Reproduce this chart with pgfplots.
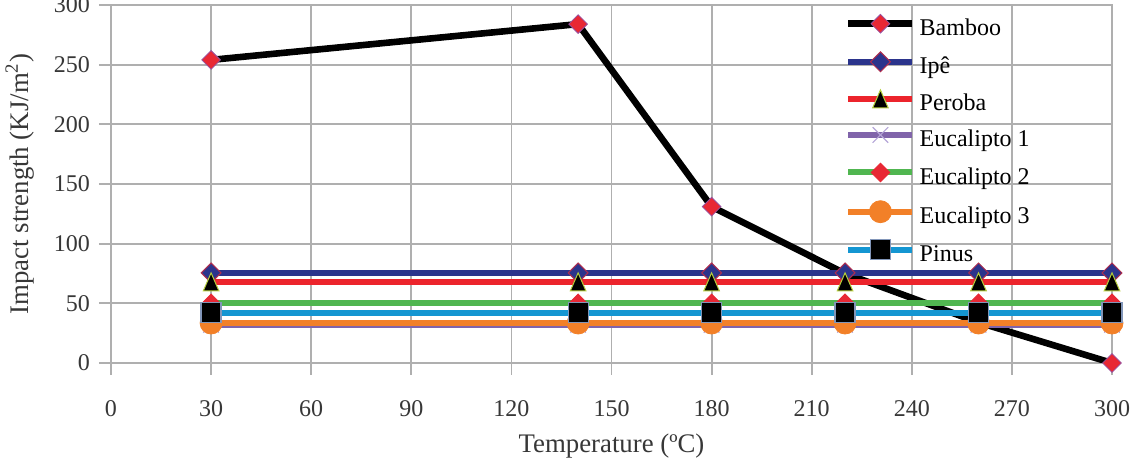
\documentclass[border=0pt]{standalone}
\usepackage{fontspec}
\setmainfont{Liberation Serif}
\usepackage{pgfplots}
\pgfplotsset{compat=1.18}

\definecolor{gridgray}{RGB}{175,175,175}
\definecolor{labelgray}{RGB}{55,55,55}
\definecolor{cBamboo}{RGB}{0,0,0}
\definecolor{cIpe}{RGB}{43,52,140}
\definecolor{cPeroba}{RGB}{236,36,44}
\definecolor{cEucA}{RGB}{128,100,170}
\definecolor{cEucAmark}{RGB}{180,165,215}
\definecolor{cEucB}{RGB}{80,182,80}
\definecolor{cEucC}{RGB}{242,128,40}
\definecolor{cPinus}{RGB}{20,150,210}
\definecolor{mkRed}{RGB}{232,40,52}
\definecolor{mkEdge}{RGB}{150,80,160}
\definecolor{mkYellow}{RGB}{180,205,60}
\definecolor{mkSq}{RGB}{130,150,185}

\begin{document}
\begin{tikzpicture}
\begin{axis}[
  name=ax,
  scale only axis,
  width=500.5pt, height=179pt,
  xmin=0, xmax=300, ymin=0, ymax=300,
  xtick distance=30, ytick distance=50,
  grid=major,
  major grid style={gridgray, line width=0.9pt},
  axis line style={gridgray, line width=0.9pt},
  tick style={gridgray, line width=0.9pt},
  tick align=outside, major tick length=6pt,
  xtick pos=lower, ytick pos=left,
  font=\fontsize{12}{14.4}\selectfont,
  /pgf/number format/assume math mode=true,
  ticklabel style={text=labelgray},
  xticklabel style={anchor=center, yshift=-17pt},
  yticklabel style={anchor=east, xshift=-1pt},
  xlabel={Temperature (ºC)},
  ylabel={Impact strength (KJ/m\textsuperscript{2})},
  xlabel style={font=\fontsize{13.4}{16}\selectfont, text=labelgray,
    at={(axis description cs:0.5,-0.232)}, anchor=center},
  ylabel style={font=\fontsize{13.4}{16}\selectfont, text=labelgray,
    at={(axis description cs:-0.091,0.5)}, anchor=center},
  legend cell align=left,
  legend style={
    draw=none, fill=none,
    at={(axis description cs:0.733,0.975)}, anchor=north west,
    inner sep=0pt, row sep=5.1pt,
    nodes={inner sep=0pt, text height=9pt, text depth=3pt, text=black},
    /tikz/every odd column/.append style={column sep=2pt},
  },
  legend image code/.code={
    \draw[mark repeat=2, mark phase=2]
      plot coordinates {(0pt,0.3em) (16pt,0.3em) (32pt,0.3em)};
  },
  every axis plot/.append style={line width=3pt},
]

% Bamboo
\addplot[cBamboo, line width=3.3pt, mark=square*, mark size=3.3pt,
  mark options={rotate=45, fill=mkRed, draw=mkEdge, line width=0.4pt}]
  coordinates {(30,254) (140,284) (180,131) (220,75) (260,34) (300,0)};
\addlegendentry{Bamboo}

% Ipê
\addplot[cIpe, mark=square*, mark size=3.5pt,
  mark options={rotate=45, fill=cIpe, draw=mkRed!70!cIpe, line width=0.5pt}]
  coordinates {(30,75.5) (140,75.5) (180,75.5) (220,75.5) (260,75.5) (300,75.5)};
\addlegendentry{Ipê}

% Peroba
\addplot[cPeroba, mark=triangle*, mark size=6pt,
  mark options={xscale=0.75, yshift=-1.5pt, fill=black, draw=mkYellow, line width=0.5pt}]
  coordinates {(30,68) (140,68) (180,68) (220,68) (260,68) (300,68)};
\addlegendentry{Peroba}

% Eucalipto 1
\addplot[cEucA, mark=x, mark size=5.5pt,
  mark options={draw=cEucAmark, line width=0.6pt}]
  coordinates {(30,32) (140,32) (180,32) (220,32) (260,32) (300,32)};
\addlegendentry{Eucalipto 1}

% Eucalipto 2
\addplot[cEucB, mark=square*, mark size=3.3pt,
  mark options={rotate=45, fill=mkRed, draw=mkRed, line width=0.4pt}]
  coordinates {(30,50) (140,50) (180,50) (220,50) (260,50) (300,50)};
\addlegendentry{Eucalipto 2}

% Eucalipto 3
\addplot[cEucC, mark=*, mark size=5.5pt,
  mark options={fill=cEucC, draw=cEucC, line width=0.4pt}]
  coordinates {(30,33.5) (140,33.5) (180,33.5) (220,33.5) (260,33.5) (300,33.5)};
\addlegendentry{Eucalipto 3}

% Pinus
\addplot[cPinus, mark=square*, mark size=5pt,
  mark options={fill=black, draw=mkSq, line width=0.6pt}]
  coordinates {(30,42) (140,42) (180,42) (220,42) (260,42) (300,42)};
\addlegendentry{Pinus}

\end{axis}
\pgfresetboundingbox
\path ([shift={(-55.5pt,-48pt)}]ax.south west) rectangle ([shift={(11.5pt,2.5pt)}]ax.north east);
\end{tikzpicture}
\end{document}
